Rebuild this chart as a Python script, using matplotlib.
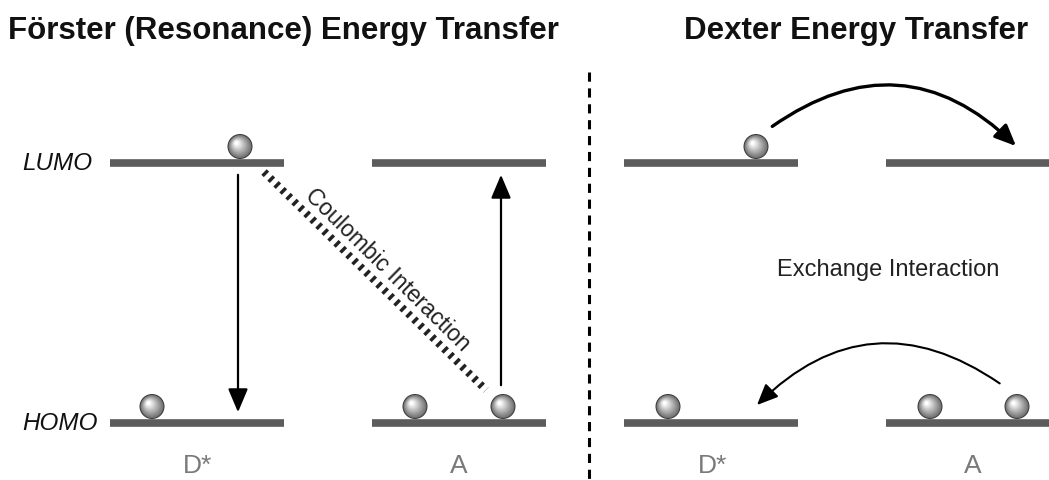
import numpy as np
import matplotlib.pyplot as plt
from matplotlib.patches import Circle, FancyArrowPatch

plt.rcParams['font.family'] = ['Liberation Sans', 'DejaVu Sans']

# diagram content (pixel coordinates of the 1049x480 canvas, y pointing down)
titles = ["Förster (Resonance) Energy Transfer", "Dexter Energy Transfer"]
title_x = [283, 856]
level_names = ["LUMO", "HOMO"]
level_y = [163, 423]
level_x0 = [110, 372, 624, 886]
level_x1 = [284, 546, 798, 1049]
species = ["D*", "A", "D*", "A"]
species_x = [198, 459, 713, 973]
# electrons: (x, level index)
electrons = [(240, 0), (152, 1), (415, 1), (503, 1), (756, 0), (668, 1), (930, 1), (1017, 1)]

fig = plt.figure(figsize=(10.49, 4.8), dpi=100)
ax = fig.add_axes([0, 0, 1, 1])
ax.set_xlim(0, 1049)
ax.set_ylim(480, 0)
ax.axis('off')

# energy levels
for y in level_y:
    for x0, x1 in zip(level_x0, level_x1):
        ax.plot([x0, x1], [y, y], color='#5c5c5c', lw=5.5, solid_capstyle='butt', zorder=2)

for name, y in zip(level_names, level_y):
    ax.text(22, y, name, fontsize=17.5, style='italic', ha='left', va='center', color='#111111')

for s, x in zip(species, species_x):
    ax.text(x, 466, s, fontsize=19, ha='center', va='center', color='#7a7a7a')

for t, x in zip(titles, title_x):
    ax.text(x, 31, t, fontsize=22.5, fontweight='bold', ha='center', va='center', color='#111111')

# electrons as shaded spheres
r = 12.5
for x, li in electrons:
    y = level_y[li] - 4 - r
    ax.add_patch(Circle((x, y), r, facecolor='#3a3a3a', edgecolor='none', zorder=4))
    n = 14
    for k in range(n):
        f = k / (n - 1)
        rr = r * (0.92 - 0.78 * f)
        g = 0.45 + 0.55 * f
        ax.add_patch(Circle((x - 3.5 * f, y - 3.5 * f), rr,
                            facecolor=(g, g, g), edgecolor='none', zorder=4))

# divider
ax.plot([589, 589], [72, 480], color='black', lw=2.2, linestyle=(0, (3, 2.2)), zorder=1)

# Forster transitions
ax.add_patch(FancyArrowPatch((238, 172), (238, 415), arrowstyle='-|>,head_length=0.9,head_width=0.38',
                             mutation_scale=16, color='black', lw=1.6, zorder=3))
ax.add_patch(FancyArrowPatch((501, 388), (501, 172), arrowstyle='-|>,head_length=0.9,head_width=0.38',
                             mutation_scale=16, color='black', lw=1.6, zorder=3))
ax.plot([264, 486], [172, 390], color='#222222', lw=5.5, linestyle=(0, (0.45, 0.65)),
        solid_capstyle='butt', dash_capstyle='butt', zorder=3)
ax.text(388, 270, "Coulombic Interaction", fontsize=16.5, rotation=-44.5, rotation_mode='anchor',
        ha='center', va='center', color='#222222')

# Dexter exchange
ax.add_patch(FancyArrowPatch((770, 128), (1018, 148), connectionstyle='arc3,rad=-0.42',
                             arrowstyle='-|>,head_length=0.8,head_width=0.35',
                             mutation_scale=16, color='black', lw=2.4, zorder=3))
ax.add_patch(FancyArrowPatch((1002, 385), (755, 407), connectionstyle='arc3,rad=0.42',
                             arrowstyle='-|>,head_length=0.8,head_width=0.35',
                             mutation_scale=16, color='black', lw=1.5, zorder=3))
ax.text(888, 270, "Exchange Interaction", fontsize=17, ha='center', va='center', color='#222222')

fig.savefig('out.png', dpi=100)
